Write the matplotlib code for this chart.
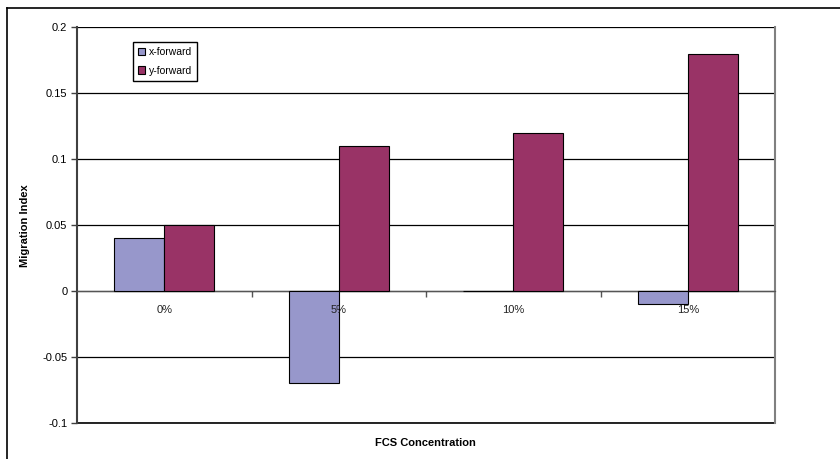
import numpy as np
import matplotlib.pyplot as plt
from matplotlib.lines import Line2D

plt.rcParams['font.family'] = ['Liberation Sans', 'DejaVu Sans']

categories = ['0%', '5%', '10%', '15%']
x_forward = [0.04, -0.07, 0.0, -0.01]
y_forward = [0.05, 0.11, 0.12, 0.18]
y_ticks = [-0.1, -0.05, 0, 0.05, 0.1, 0.15, 0.2]
y_tick_labels = ['-0.1', '-0.05', '0', '0.05', '0.1', '0.15', '0.2']

fig = plt.figure(figsize=(8.4, 4.59), dpi=100)
ax = fig.add_axes([0.0917, 0.0784, 0.8310, 0.8617])

pos = np.arange(len(categories))
w = 0.2865
ax.bar(pos - w / 2, x_forward, w, color='#9797CB', edgecolor='black',
       linewidth=0.8, label='x-forward', zorder=3)
ax.bar(pos + w / 2, y_forward, w, color='#993366', edgecolor='black',
       linewidth=0.8, label='y-forward', zorder=3)

ax.set_xlim(-0.5, 3.5)
ax.set_ylim(-0.1, 0.2)
ax.set_yticks(y_ticks)
ax.set_yticklabels(y_tick_labels)
ax.yaxis.grid(True, color='black', linewidth=0.9, zorder=1)
ax.axhline(-0.1, color='black', linewidth=1.2, clip_on=False, zorder=2)

# category axis sits on the zero line
ax.spines['bottom'].set_position(('data', 0))
ax.spines['bottom'].set_color('#555555')
ax.spines['bottom'].set_linewidth(0.9)
ax.spines['top'].set_visible(False)
ax.spines['right'].set_color('#808080')
ax.spines['right'].set_linewidth(1.5)
ax.spines['left'].set_color('#404040')
ax.spines['left'].set_linewidth(1.5)

# category labels drawn over the bars
ax.set_xticks(pos)
ax.set_xticklabels([])
for p, lab in zip(pos, categories):
    ax.text(p, -0.0145, lab, ha='center', va='center', fontsize=8,
            color='#222222', zorder=6)
ax.set_xticks(np.arange(0.5, 3.0, 1.0), minor=True)
ax.tick_params(axis='x', which='major', length=0)
ax.tick_params(axis='x', which='minor', length=4, width=1, color='#555555')
ax.tick_params(axis='y', length=4, width=1, color='#404040', labelsize=8,
               pad=3)

ax.set_ylabel('Migration Index', fontsize=8, fontweight='bold', labelpad=9)
fig.text(0.507, 0.035, 'FCS Concentration', fontsize=8, fontweight='bold',
         ha='center', va='center')

ax.legend(loc='upper left', bbox_to_anchor=(0.080, 0.963), borderaxespad=0,
          fontsize=7.5, frameon=True, fancybox=False, edgecolor='black',
          handlelength=0.7, handleheight=0.7, handletextpad=0.3,
          borderpad=0.5, labelspacing=0.8, framealpha=1)

# outer chart frame
fig.add_artist(Line2D([0.0083, 1.0], [0.9826, 0.9826], color='black',
                      linewidth=1.2, transform=fig.transFigure))
fig.add_artist(Line2D([0.0083, 0.0083], [0.0, 0.9826], color='black',
                      linewidth=1.2, transform=fig.transFigure))

fig.savefig('out.png', dpi=100)
